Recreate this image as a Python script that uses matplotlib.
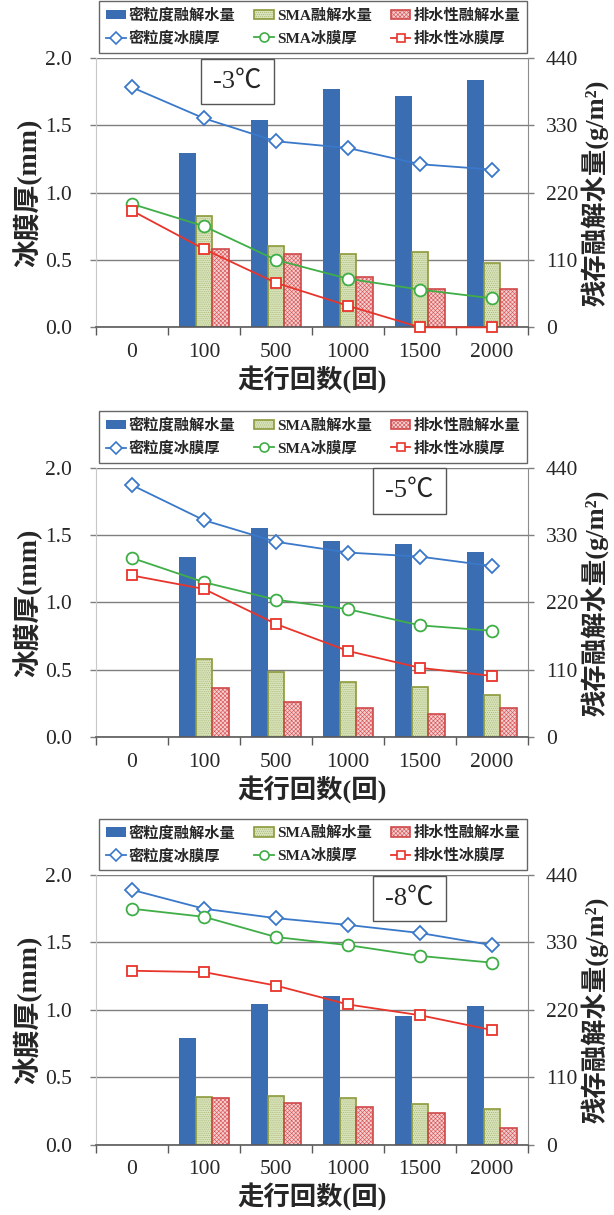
import numpy as np
import matplotlib
matplotlib.use("Agg")
import matplotlib.pyplot as plt
from matplotlib.patches import Patch
from matplotlib.lines import Line2D

plt.rcParams['font.family'] = ['Liberation Serif', 'Noto Sans CJK SC']
plt.rcParams['hatch.linewidth'] = 0.45

# ---- data ----
passes = ['0', '100', '500', '1000', '1500', '2000']
temps = ['-3℃', '-5℃', '-8℃']

# residual melt water (g/m²) after 100 .. 2000 passes
dense_melt = [[285, 339, 389, 378, 403],
              [295, 342, 321, 316, 303],
              [174, 229, 243, 210, 227]]
sma_melt = [[181, 133, 119, 123, 105],
            [128, 106, 91, 82, 69],
            [78, 80, 76, 67, 58]]
drain_melt = [[128, 119, 82, 63, 63],
              [81, 57, 47, 38, 47],
              [76, 68, 61, 51, 27]]

# ice film thickness (mm) after 0 .. 2000 passes
dense_film = [[1.78, 1.55, 1.38, 1.33, 1.21, 1.17],
              [1.87, 1.61, 1.45, 1.37, 1.34, 1.27],
              [1.89, 1.75, 1.68, 1.63, 1.57, 1.48]]
sma_film = [[0.915, 0.75, 0.50, 0.36, 0.28, 0.215],
            [1.33, 1.15, 1.02, 0.95, 0.83, 0.79],
            [1.75, 1.69, 1.54, 1.48, 1.40, 1.35]]
drain_film = [[0.865, 0.58, 0.33, 0.16, 0.0, 0.0],
              [1.20, 1.10, 0.84, 0.64, 0.515, 0.455],
              [1.29, 1.28, 1.18, 1.04, 0.96, 0.85]]

legend_labels = ['密粒度融解水量', '密粒度冰膜厚', 'SMA融解水量', 'SMA冰膜厚',
                 '排水性融解水量', '排水性冰膜厚']

# ---- styles ----
c_dense_bar = '#3B6DB3'
c_sma_face, c_sma_hatch, c_sma_edge = '#D9E3BC', '#A7B56E', '#8C9A3A'
c_drain_face, c_drain_hatch, c_drain_edge = '#F6D0D0', '#D9585A', '#D0484A'
c_l_blue, c_l_green, c_l_red = '#3A78C9', '#3FAE47', '#E8352B'
c_grid = '#7F7F7F'
c_text = '#262626'
sma_hatch = '........'
drain_hatch = 'xxxxxxxx'

fig = plt.figure(figsize=(6.14, 12.15), dpi=100)
bottoms = [0.7306, 0.3932, 0.0579]
label_pos = [(0.3275, 0.912), (0.7257, 0.913), (0.7257, 0.913)]

x_all = np.arange(len(passes))
x_bar = np.arange(1, len(passes))
w = 0.235

for i in range(3):
    ax = fig.add_axes([0.1564, bottoms[i], 0.7036, 0.2219])
    ax2 = ax.twinx()
    ax.set_zorder(ax2.get_zorder() + 1)
    ax.patch.set_visible(False)

    # bars: residual melt water on the right axis
    ax2.bar(x_bar - w, dense_melt[i], w, color=c_dense_bar, zorder=2)
    ax2.bar(x_bar, sma_melt[i], w, facecolor=c_sma_face, edgecolor=c_sma_hatch,
            hatch=sma_hatch, linewidth=0, zorder=2)
    ax2.bar(x_bar, sma_melt[i], w, fill=False, edgecolor=c_sma_edge,
            linewidth=1.2, zorder=3)
    ax2.bar(x_bar + w, drain_melt[i], w, facecolor=c_drain_face,
            edgecolor=c_drain_hatch, hatch=drain_hatch, linewidth=0, zorder=2)
    ax2.bar(x_bar + w, drain_melt[i], w, fill=False, edgecolor=c_drain_edge,
            linewidth=1.2, zorder=3)

    ax2.set_ylim(0, 440)
    ax2.set_yticks([0, 110, 220, 330, 440])
    ax2.yaxis.grid(True, color=c_grid, linewidth=1.0)
    ax2.set_axisbelow(True)
    ax2.tick_params(axis='y', direction='out', length=4.3, width=1.0,
                    color=c_grid, pad=8.5, labelsize=15.5, labelcolor=c_text)
    for s in ['left', 'top', 'bottom']:
        ax2.spines[s].set_visible(False)
    ax2.spines['right'].set_color('#8C8C8C')
    ax2.set_ylabel('残存融解水量(g/m²)', fontsize=19, fontweight='bold',
                   color=c_text, labelpad=2)

    # lines: ice film thickness on the left axis
    ax.plot(x_all, dense_film[i], color=c_l_blue, lw=1.3, marker='D', ms=7.5,
            mfc='white', mec=c_l_blue, mew=1.3, clip_on=False, zorder=5)
    ax.plot(x_all, sma_film[i], color=c_l_green, lw=1.3, marker='o', ms=8.5,
            mfc='white', mec=c_l_green, mew=1.3, clip_on=False, zorder=5)
    ax.plot(x_all, drain_film[i], color=c_l_red, lw=1.3, marker='s', ms=7,
            mfc='white', mec=c_l_red, mew=1.3, clip_on=False, zorder=5)

    ax.set_ylim(0, 2.0)
    ax.set_yticks([0, 0.5, 1.0, 1.5, 2.0])
    ax.set_yticklabels(['0.0', '0.5', '1.0', '1.5', '2.0'])
    ax.tick_params(axis='y', direction='out', length=4.3, width=1.0,
                   color=c_grid, pad=13, labelsize=15.5, labelcolor=c_text)
    ax.set_xlim(-0.5, 5.5)
    ax.set_xticks(x_all)
    ax.set_xticklabels(passes)
    ax.set_xticks(np.arange(-0.5, 6.0, 1.0), minor=True)
    ax.tick_params(axis='x', which='major', length=0, pad=11, labelsize=15.5,
                   labelcolor=c_text)
    ax.tick_params(axis='x', which='minor', length=6, width=1.0,
                   direction='out', color='#595959')
    for s in ['top', 'right']:
        ax.spines[s].set_visible(False)
    ax.spines['left'].set_color('#C8C8C8')
    ax.spines['bottom'].set_color('#595959')
    ax.spines['bottom'].set_linewidth(1.2)

    ax.set_ylabel('冰膜厚(mm)', fontsize=20, fontweight='bold', color=c_text,
                  labelpad=2)
    ax.set_xlabel('走行回数(回)', fontsize=19, fontweight='bold', color=c_text,
                  labelpad=3)

    ax.text(label_pos[i][0], label_pos[i][1], temps[i], transform=ax.transAxes,
            ha='center', va='center', fontsize=19, color=c_text, zorder=6,
            bbox=dict(boxstyle='square,pad=0.45', fc='white', ec='#555555',
                      lw=1.0))

    # legend: bars in the first row, lines in the second
    h_dense = Patch(facecolor=c_dense_bar, edgecolor='none')
    h_sma = (Patch(facecolor=c_sma_face, edgecolor=c_sma_hatch, hatch=sma_hatch, lw=0),
             Patch(fill=False, edgecolor=c_sma_edge, lw=1.2))
    h_drain = (Patch(facecolor=c_drain_face, edgecolor=c_drain_hatch, hatch=drain_hatch, lw=0),
               Patch(fill=False, edgecolor=c_drain_edge, lw=1.2))
    l_dense = Line2D([], [], color=c_l_blue, lw=1.3, marker='D', ms=6,
                     mfc='white', mec=c_l_blue, mew=1.2)
    l_sma = Line2D([], [], color=c_l_green, lw=1.3, marker='o', ms=6.5,
                   mfc='white', mec=c_l_green, mew=1.2)
    l_drain = Line2D([], [], color=c_l_red, lw=1.3, marker='s', ms=5.5,
                     mfc='white', mec=c_l_red, mew=1.2)
    leg = ax.legend([h_dense, l_dense, h_sma, l_sma, h_drain, l_drain],
                    legend_labels, ncol=3, loc='lower left',
                    bbox_to_anchor=(0.007, 1.018, 0.991, 0.17), mode='expand',
                    frameon=True, fancybox=False, edgecolor='#404040',
                    prop={'size': 11, 'weight': 'bold'}, handlelength=1.3,
                    handleheight=0.6, handletextpad=0.2, borderaxespad=0,
                    labelspacing=0.55, borderpad=0.45, columnspacing=1.0)
    leg.get_frame().set_linewidth(1.0)
    for t in leg.get_texts():
        t.set_color(c_text)

fig.savefig('out.png', dpi=100, facecolor='white')
